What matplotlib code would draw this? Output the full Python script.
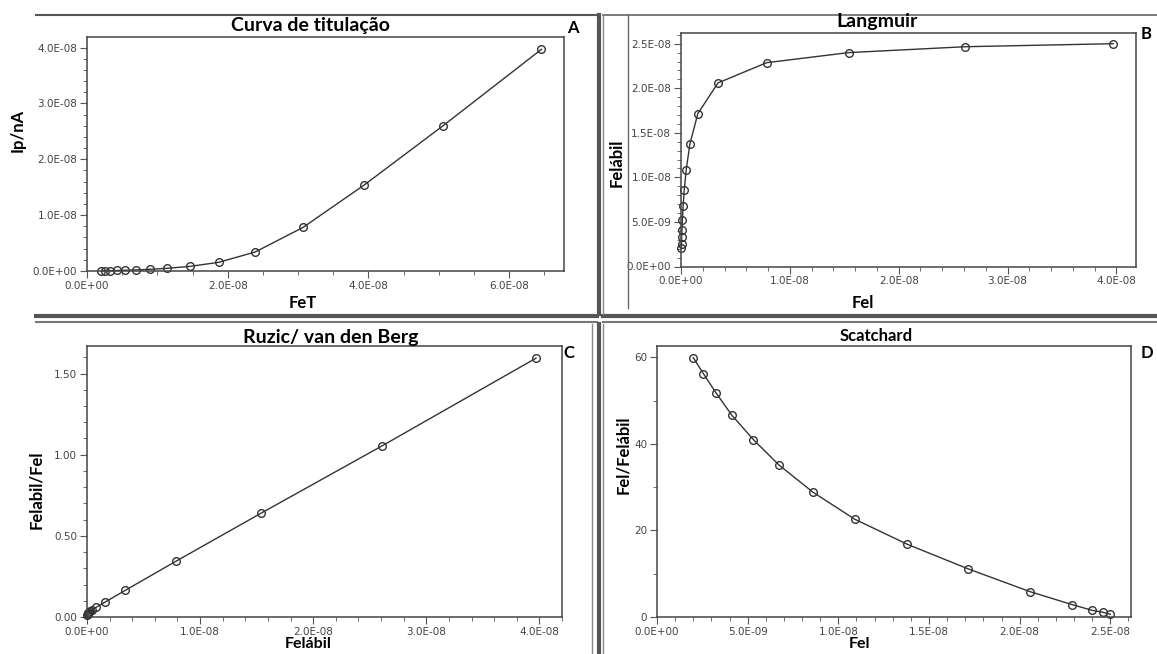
import matplotlib
matplotlib.use("Agg")
import matplotlib.pyplot as plt
from matplotlib.lines import Line2D
from matplotlib.ticker import FuncFormatter, MultipleLocator

W, H = 1157, 654

# Panel A - Curva de titulação
fet = [0.20e-8, 0.26e-8, 0.33e-8, 0.42e-8, 0.54e-8, 0.69e-8, 0.89e-8, 1.14e-8,
       1.46e-8, 1.87e-8, 2.39e-8, 3.07e-8, 3.94e-8, 5.06e-8, 6.46e-8]
ip = [0.003e-8, 0.005e-8, 0.006e-8, 0.009e-8, 0.013e-8, 0.019e-8, 0.030e-8, 0.048e-8,
      0.082e-8, 0.155e-8, 0.34e-8, 0.78e-8, 1.54e-8, 2.60e-8, 3.97e-8]

# Panel B - Langmuir
fel_b = [0.003e-8, 0.005e-8, 0.006e-8, 0.009e-8, 0.013e-8, 0.019e-8, 0.030e-8, 0.048e-8,
         0.082e-8, 0.155e-8, 0.34e-8, 0.787e-8, 1.54e-8, 2.61e-8, 3.97e-8]
felabil_b = [0.209e-8, 0.254e-8, 0.328e-8, 0.414e-8, 0.526e-8, 0.675e-8, 0.862e-8, 1.086e-8,
             1.377e-8, 1.716e-8, 2.06e-8, 2.287e-8, 2.40e-8, 2.466e-8, 2.50e-8]

# Panel C - Ruzic / van den Berg
felabil_c = [0.003e-8, 0.005e-8, 0.006e-8, 0.009e-8, 0.013e-8, 0.019e-8, 0.030e-8, 0.048e-8,
             0.082e-8, 0.155e-8, 0.34e-8, 0.79e-8, 1.54e-8, 2.61e-8, 3.97e-8]
ratio_c = [0.015, 0.018, 0.019, 0.022, 0.025, 0.028, 0.035, 0.044,
           0.060, 0.090, 0.165, 0.345, 0.640, 1.055, 1.595]

# Panel D - Scatchard
fel_d = [0.20e-8, 0.256e-8, 0.325e-8, 0.413e-8, 0.531e-8, 0.673e-8, 0.861e-8, 1.09e-8,
         1.38e-8, 1.717e-8, 2.057e-8, 2.29e-8, 2.40e-8, 2.46e-8, 2.50e-8]
ratio_d = [59.9, 56.2, 51.8, 46.6, 41.0, 35.1, 28.8, 22.6,
           16.8, 11.1, 5.86, 2.85, 1.54, 1.08, 0.62]

fig = plt.figure(figsize=(W / 100, H / 100), dpi=100)
fig.patch.set_facecolor("white")


def fx(x):
    return x / W


def fy(y):
    return 1 - y / H


def make_axes(left, top, right, bottom):
    ax = fig.add_axes([fx(left), fy(bottom), (right - left) / W, (bottom - top) / H])
    for s in ax.spines.values():
        s.set_color("#444444")
        s.set_linewidth(1.1)
    ax.tick_params(which="both", direction="out", color="#555555",
                   labelsize=7.5, labelcolor="#444444", pad=2)
    ax.tick_params(which="major", length=5)
    ax.tick_params(which="minor", length=3)
    return ax


sci = FuncFormatter(lambda v, p: "%.1E" % v)
line_kw = dict(color="#333333", lw=1.0, marker="o", ms=5.5, mfc="none",
               mec="#333333", mew=1.0, clip_on=False)


def ftext(x, y, s, size, rot=0, ha="center", weight="bold"):
    fig.text(fx(x), fy(y), s, fontsize=size, rotation=rot, ha=ha, va="center",
             family="Lato", weight=weight, color="black")


# A
ax = make_axes(87, 37, 564, 271)
ax.plot(fet, ip, **line_kw)
ax.set_xlim(0, 6.78e-8)
ax.set_ylim(0, 4.19e-8)
ax.xaxis.set_major_locator(MultipleLocator(2e-8))
ax.xaxis.set_minor_locator(MultipleLocator(0.5e-8))
ax.yaxis.set_major_locator(MultipleLocator(1e-8))
ax.yaxis.set_minor_locator(MultipleLocator(0.2e-8))
ax.xaxis.set_major_formatter(sci)
ax.yaxis.set_major_formatter(sci)
ftext(310, 26, "Curva de titulação", 14)
ftext(573, 28, "A", 12)
ftext(18, 130, "Ip/nA", 12, rot=90)
ftext(303, 303, "FeT", 12)

# B
ax = make_axes(681, 33, 1136, 266.5)
ax.plot(fel_b, felabil_b, **line_kw)
ax.set_xlim(0, 4.18e-8)
ax.set_ylim(0, 2.62e-8)
ax.xaxis.set_major_locator(MultipleLocator(1e-8))
ax.xaxis.set_minor_locator(MultipleLocator(0.2e-8))
ax.yaxis.set_major_locator(MultipleLocator(0.5e-8))
ax.yaxis.set_minor_locator(MultipleLocator(0.1e-8))
ax.xaxis.set_major_formatter(sci)
ax.yaxis.set_major_formatter(sci)
ftext(877, 21, "Langmuir", 14)
ftext(1146, 34, "B", 12)
ftext(617, 163, "Felábil", 12, rot=90)
ftext(863, 303, "Fel", 12)

# C
ax = make_axes(87, 346, 562, 617)
ax.plot(felabil_c, ratio_c, **line_kw)
ax.set_xlim(0, 4.2e-8)
ax.set_ylim(0, 1.67)
ax.xaxis.set_major_locator(MultipleLocator(1e-8))
ax.xaxis.set_minor_locator(MultipleLocator(0.2e-8))
ax.yaxis.set_major_locator(MultipleLocator(0.5))
ax.yaxis.set_minor_locator(MultipleLocator(0.1))
ax.xaxis.set_major_formatter(sci)
ax.yaxis.set_major_formatter(FuncFormatter(lambda v, p: "%.2f" % v))
ftext(331, 337, "Ruzic/ van den Berg", 14)
ftext(569, 353, "C", 12)
ftext(36, 490, "Felabil/Fel", 12, rot=90)
ftext(308, 644, "Felábil", 11.5)

# D
ax = make_axes(657, 346, 1131, 617)
ax.plot(fel_d, ratio_d, **line_kw)
ax.set_xlim(0, 2.614e-8)
ax.set_ylim(0, 62.6)
ax.xaxis.set_major_locator(MultipleLocator(0.5e-8))
ax.xaxis.set_minor_locator(MultipleLocator(0.1e-8))
ax.yaxis.set_major_locator(MultipleLocator(20))
ax.yaxis.set_minor_locator(MultipleLocator(10))
ax.xaxis.set_major_formatter(sci)
ftext(876, 336, "Scatchard", 12)
ftext(1147, 353, "D", 12)
ftext(623, 455, "Fel/Felábil", 12, rot=90)
ftext(859, 644, "Fel", 11.5)


# window frame lines of the original screenshot
def fline(x0, y0, x1, y1, c, lw):
    fig.add_artist(Line2D([fx(x0), fx(x1)], [fy(y0), fy(y1)], color=c, lw=lw,
                          transform=fig.transFigure))


fline(36, 15, 597, 15, "#555555", 1.5)
fline(603, 15, 1157, 15, "#666666", 1.2)
fline(628, 15, 628, 308, "#666666", 1.0)
# horizontal separator
fline(36, 316, 597, 316, "#555555", 3.0)
fline(36, 322, 597, 322, "#777777", 1.5)
fline(603, 316, 1157, 316, "#555555", 3.0)
fline(603, 322, 1157, 322, "#777777", 1.5)
# vertical separator
fline(599, 15, 599, 314, "#555555", 3.0)
fline(599, 324, 599, 654, "#555555", 3.0)
fline(603, 15, 603, 314, "#888888", 1.0)
fline(603, 324, 603, 654, "#888888", 1.0)
fline(592, 324, 592, 654, "#888888", 1.0)

fig.savefig("out.png", dpi=100, facecolor="white")
